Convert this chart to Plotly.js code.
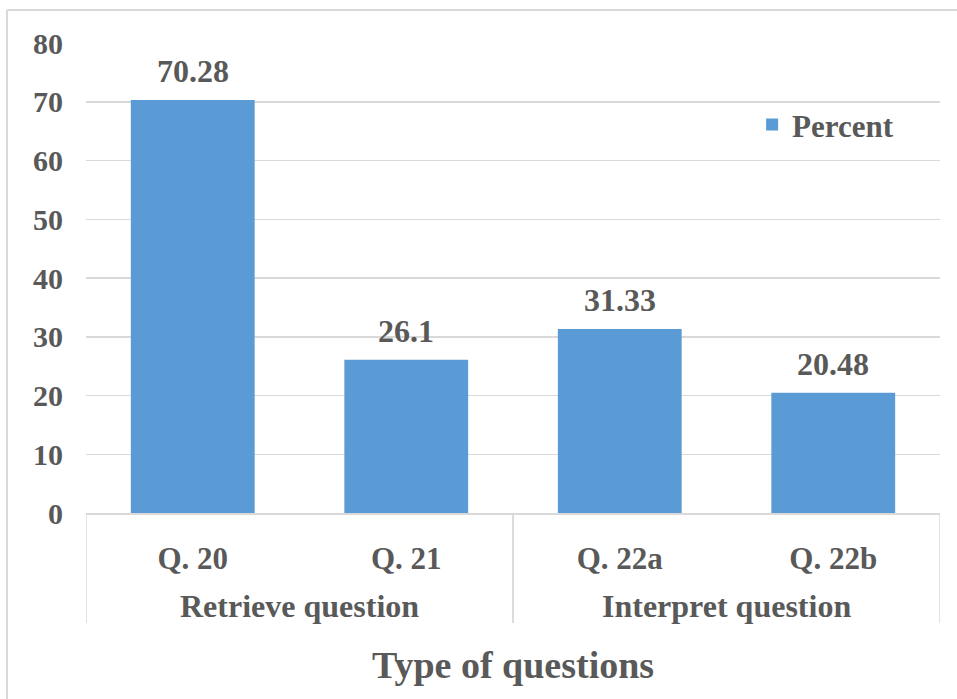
<!DOCTYPE html>
<html>
<head>
<meta charset="utf-8">
<script src="https://cdn.plot.ly/plotly-3.0.1.min.js"></script>
<style>body{margin:0;padding:0;background:#fff;}#chart{width:957px;height:699px;}</style>
</head>
<body>
<div id="chart"></div>
<script>
const groups = ["Retrieve question", "Retrieve question", "Interpret question", "Interpret question"];
const questions = ["Q. 20", "Q. 21", "Q. 22a", "Q. 22b"];
const percent = [70.28, 26.1, 31.33, 20.48];
const labels = ["70.28", "26.1", "31.33", "20.48"];
const yTicks = [0, 10, 20, 30, 40, 50, 60, 70, 80];

const txt = "#595959";
const grid = "#d9d9d9";
const fontFam = "Liberation Serif, Times New Roman, serif";
const bold = s => "<b>" + s + "</b>";

const trace = {
  type: "bar",
  name: bold("Percent"),
  x: questions,
  y: percent,
  marker: {color: "#5b9bd5"},
  showlegend: true,
  hoverinfo: "y"
};

// value labels above bars (placed via the data scales)
const annotations = questions.map((q, i) => ({
  x: q, y: percent[i], xref: "x", yref: "y",
  text: bold(labels[i]), showarrow: false,
  yanchor: "bottom", yshift: 9,
  font: {family: fontFam, size: 32, color: txt}
}));

// group labels and dividers computed from the group array
const shapes = [];
const groupNames = [];
groups.forEach(g => { if (!groupNames.includes(g)) groupNames.push(g); });
groupNames.forEach(g => {
  const idx = groups.map((v, i) => v === g ? i : -1).filter(i => i >= 0);
  const lo = Math.min(...idx), hi = Math.max(...idx);
  annotations.push({
    x: (lo + hi) / 2, y: -0.198, xref: "x", yref: "paper",
    text: bold(g), showarrow: false, yanchor: "middle",
    font: {family: fontFam, size: 32, color: txt}
  });
  [lo - 0.5, hi + 0.5].forEach(xb => shapes.push({
    type: "line", xref: "x", yref: "paper", x0: xb, x1: xb, y0: 0, y1: -0.234,
    line: {color: grid, width: 1.5}
  }));
});

// outer frame (top and left edges)
shapes.push(
  {type: "line", xref: "paper", yref: "paper", x0: -0.0925, x1: 1.03, y0: 1.0702, y1: 1.0702, line: {color: grid, width: 2}},
  {type: "line", xref: "paper", yref: "paper", x0: -0.0925, x1: -0.0925, y0: 1.0702, y1: -0.40, line: {color: grid, width: 2}}
);

const layout = {
  width: 957, height: 699,
  margin: {l: 86, r: 17, t: 43, b: 186},
  paper_bgcolor: "#fff", plot_bgcolor: "#fff",
  bargap: 0.42,
  font: {family: fontFam, color: txt, size: 22},
  xaxis: {
    type: "category",
    showline: true, linecolor: grid, linewidth: 1.5,
    tickvals: questions,
    ticktext: questions.map(q => bold(q)),
    tickfont: {family: fontFam, size: 31, color: txt},
    ticks: "",
    ticklabelstandoff: 17,
    range: [-0.5, questions.length - 0.5],
    title: {text: bold("Type of questions"), font: {family: fontFam, size: 38, color: txt}, standoff: 76}
  },
  yaxis: {
    range: [0, 80],
    tickvals: yTicks,
    ticktext: yTicks.map(v => bold(v)),
    tickfont: {family: fontFam, size: 30, color: txt},
    showgrid: true, gridcolor: grid, gridwidth: 1.5,
    zeroline: false,
    ticklabelstandoff: 22
  },
  legend: {
    x: 0.78, y: 0.826, xanchor: "left", yanchor: "middle",
    font: {family: fontFam, size: 31, color: txt},
    bgcolor: "rgba(0,0,0,0)",
    itemwidth: 30
  },
  annotations: annotations,
  shapes: shapes
};

Plotly.newPlot("chart", [trace], layout, {displayModeBar: false, staticPlot: true});
</script>
</body>
</html>
